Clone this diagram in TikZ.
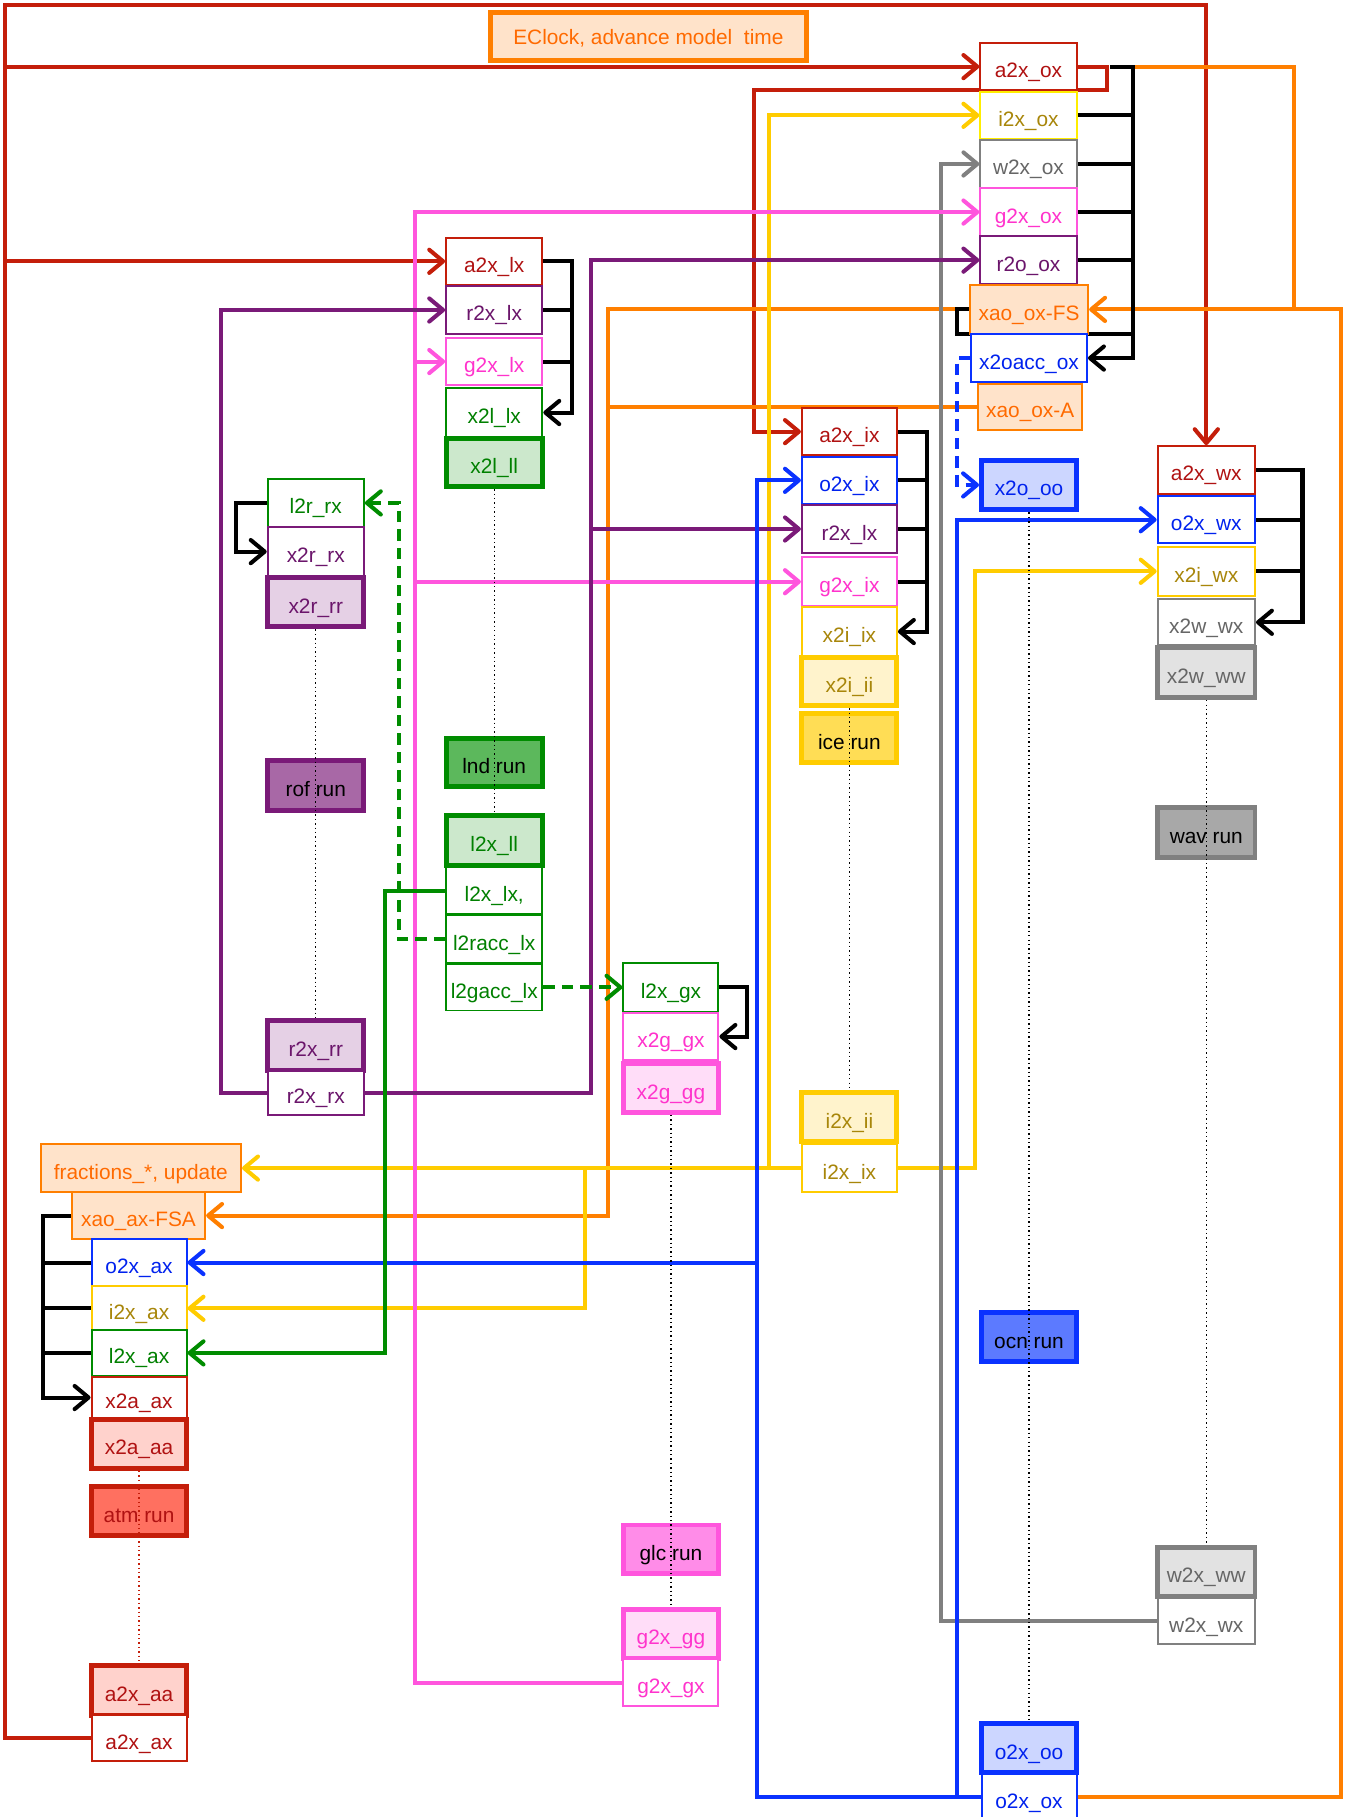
\documentclass[tikz,border=0pt]{standalone}
\usepackage{fontspec}
\setmainfont{Liberation Sans}
\usetikzlibrary{arrows.meta}
\pgfdeclarelayer{bg}
\pgfsetlayers{bg,main}
\definecolor{cred}{HTML}{C41E0A}
\definecolor{tred}{HTML}{B01212}
\definecolor{fred}{HTML}{FFD2CC}
\definecolor{atmred}{HTML}{FF7060}
\definecolor{corange}{HTML}{FF7F00}
\definecolor{forange}{HTML}{FFE3CA}
\definecolor{torange}{HTML}{FF6A00}
\definecolor{cyellow}{HTML}{FFCC00}
\definecolor{byellow}{HTML}{FFEE00}
\definecolor{tyellow}{HTML}{A8860A}
\definecolor{fyellow}{HTML}{FFF3CC}
\definecolor{iceyel}{HTML}{FFDD55}
\definecolor{cgray}{HTML}{808080}
\definecolor{tgray}{HTML}{666666}
\definecolor{fgray}{HTML}{E2E2E2}
\definecolor{wavgray}{HTML}{A8A8A8}
\definecolor{cpink}{HTML}{FF55DD}
\definecolor{tpink}{HTML}{FF33CC}
\definecolor{fpink}{HTML}{FFDDF8}
\definecolor{glcpink}{HTML}{FF8CE8}
\definecolor{cpur}{HTML}{7A1A78}
\definecolor{tpur}{HTML}{6B156B}
\definecolor{fpur}{HTML}{E5D0E5}
\definecolor{rofpur}{HTML}{A868A6}
\definecolor{cgreen}{HTML}{008C00}
\definecolor{tgreen}{HTML}{008000}
\definecolor{fgreen}{HTML}{CCE8CC}
\definecolor{lndgreen}{HTML}{5CB85C}
\definecolor{cblue}{HTML}{0A32FF}
\definecolor{tblue}{HTML}{0022EE}
\definecolor{fblue}{HTML}{CCD6FF}
\definecolor{ocnblue}{HTML}{5C7AFF}
\newcommand\lbl{\fontsize{18}{20}\selectfont}
\newcommand\bx[7]{%
  \pgfmathsetmacro\bxw{#4-#2}\pgfmathsetmacro\bxh{#5-#3}%
  \node[#6, minimum width=\bxw pt, minimum height=\bxh pt] (#1) at ({(#2+#4)/2},{(#3+#5)/2}) {#7};}
\begin{document}
\begin{tikzpicture}[x=1pt,y=-1pt,
  box/.style={draw, inner sep=0pt, line width=1.7pt, fill=white, font=\lbl, text height=20pt, text depth=1pt},
  comp/.style={line width=4.3pt},
  sred/.style={box, draw=cred, text=tred},
  sora/.style={box, draw=corange, fill=forange, text=torange},
  syel/.style={box, draw=cyellow, text=tyellow},
  sgray/.style={box, draw=cgray, text=tgray},
  spink/.style={box, draw=cpink, text=tpink},
  spur/.style={box, draw=cpur, text=tpur},
  sblue/.style={box, draw=cblue, text=tblue},
  sgreen/.style={box, draw=cgreen, text=tgreen},
  cn/.style={line width=3.5pt},
  arr/.style={-{Straight Barb[length=12pt,width=20pt,round]}},
  dsh/.style={dash pattern=on 10pt off 6pt},
  dot/.style={line width=1pt, dash pattern=on 1.2pt off 2.6pt}]
\useasboundingbox (0,0) rectangle (1163,1568);
% ocean column
\bx{aox}{846}{37}{929}{78}{sred}{a2x\_ox}
\bx{iox}{846}{79}{929}{120}{syel, draw=byellow}{i2x\_ox}
\bx{wox}{846}{121}{929}{162}{sgray}{w2x\_ox}
\bx{gox}{846}{162}{929}{204}{spink}{g2x\_ox}
\bx{rox}{846}{204}{929}{245}{spur}{r2o\_ox}
\bx{xfs}{837}{246}{939}{288}{sora}{xao\_ox-FS}
\bx{xacc}{838}{288}{938}{330}{sblue}{x2oacc\_ox}
\bx{xoa}{844}{331}{934}{371}{sora}{xao\_ox-A}
\bx{xoo}{847}{397}{929}{440}{sblue,comp,fill=fblue}{x2o\_oo}
\bx{ocn}{847}{1133}{929}{1175}{sblue,comp,fill=ocnblue,text=black}{ocn run}
\bx{ooo}{847}{1487}{929}{1530}{sblue,comp,fill=fblue}{o2x\_oo}
\bx{oox}{847}{1531}{929}{1571}{sblue}{o2x\_ox}
% clock
\bx{eclk}{423}{11}{696}{52}{sora, comp, text height=14pt}{EClock, advance model~~time}
% land column
\bx{alx}{385}{205}{468}{246}{sred}{a2x\_lx}
\bx{rlx}{385}{247}{468}{288}{spur}{r2x\_lx}
\bx{glx}{385}{292}{468}{332}{spink}{g2x\_lx}
\bx{xllx}{385}{335}{468}{377}{sgreen}{x2l\_lx}
\bx{xll}{385}{378}{468}{420}{sgreen,comp,fill=fgreen}{x2l\_ll}
\bx{lnd}{385}{637}{468}{679}{sgreen,comp,fill=lndgreen,text=black}{lnd run}
\bx{lxll}{385}{704}{468}{747}{sgreen,comp,fill=fgreen}{l2x\_ll}
\bx{lxlx}{385}{748}{468}{789}{sgreen}{l2x\_lx,}
\bx{lracc}{385}{790}{468}{831}{sgreen}{l2racc\_lx}
\bx{lgacc}{385}{832}{468}{872}{sgreen}{l2gacc\_lx}
% ice column
\bx{aix}{692}{352}{774}{393}{sred}{a2x\_ix}
\bx{oix}{692}{394}{774}{435}{sblue}{o2x\_ix}
\bx{rix}{692}{436}{774}{477}{spur}{r2x\_lx}
\bx{gix}{692}{481}{774}{523}{spink}{g2x\_ix}
\bx{xiix}{692}{524}{774}{566}{syel}{x2i\_ix}
\bx{xiii}{692}{567}{774}{609}{syel,comp,fill=fyellow}{x2i\_ii}
\bx{ice}{692}{616}{774}{658}{syel,comp,fill=iceyel,text=black}{ice run}
\bx{iii}{692}{943}{774}{985}{syel,comp,fill=fyellow}{i2x\_ii}
\bx{iix}{692}{987}{774}{1029}{syel}{i2x\_ix}
% river column
\bx{lrrx}{231}{413}{314}{455}{sgreen}{l2r\_rx}
\bx{xrrx}{231}{455}{314}{497}{spur}{x2r\_rx}
\bx{xrrr}{231}{498}{314}{541}{spur,comp,fill=fpur}{x2r\_rr}
\bx{rof}{231}{656}{314}{699}{spur,comp,fill=rofpur,text=black}{rof run}
\bx{rxrr}{231}{881}{314}{924}{spur,comp,fill=fpur}{r2x\_rr}
\bx{rxrx}{231}{924}{314}{962}{spur}{r2x\_rx}
% glacier column
\bx{lxgx}{538}{831}{620}{873}{sgreen}{l2x\_gx}
\bx{xggx}{538}{874}{620}{915}{spink}{x2g\_gx}
\bx{xggg}{538}{918}{620}{960}{spink,comp,fill=fpink}{x2g\_gg}
\bx{glc}{538}{1316}{620}{1358}{spink,comp,fill=glcpink,text=black}{glc run}
\bx{gxgg}{538}{1389}{620}{1431}{spink,comp,fill=fpink}{g2x\_gg}
\bx{gxgx}{538}{1432}{620}{1472}{spink}{g2x\_gx}
% atmosphere column
\bx{frac}{35}{987}{208}{1029}{sora}{fractions\_*, update}
\bx{xaxf}{62}{1029}{177}{1069}{sora}{xao\_ax-FSA}
\bx{oax}{79}{1069}{161}{1110}{sblue}{o2x\_ax}
\bx{iax}{79}{1110}{161}{1148}{syel}{i2x\_ax}
\bx{lax}{79}{1148}{161}{1187}{sgreen}{l2x\_ax}
\bx{xaax}{79}{1188}{161}{1224}{sred}{x2a\_ax}
\bx{xaaa}{79}{1225}{161}{1267}{sred,comp,fill=fred}{x2a\_aa}
\bx{atm}{79}{1283}{161}{1325}{sred,comp,fill=atmred}{atm run}
\bx{aaa}{79}{1437}{161}{1480}{sred,comp,fill=fred}{a2x\_aa}
\bx{aax}{79}{1480}{161}{1520}{sred}{a2x\_ax}
% wave column
\bx{awx}{999}{385}{1083}{426}{sred}{a2x\_wx}
\bx{owx}{999}{428}{1083}{469}{sblue}{o2x\_wx}
\bx{xiwx}{999}{472}{1083}{514}{syel}{x2i\_wx}
\bx{xwwx}{999}{517}{1083}{557}{sgray}{x2w\_wx}
\bx{xwww}{999}{559}{1083}{602}{sgray,comp,fill=fgray}{x2w\_ww}
\bx{wav}{999}{697}{1083}{740}{sgray,comp,fill=wavgray,text=black}{wav run}
\bx{www}{999}{1335}{1083}{1378}{sgray,comp,fill=fgray}{w2x\_ww}
\bx{wwx}{999}{1379}{1083}{1419}{sgray}{w2x\_wx}
\coordinate (lft) at (4,4);
\coordinate (kox) at (978,0);
\coordinate (klx) at (494,0);
\coordinate (kix) at (800,0);
\coordinate (kwx) at (1124,0);
\coordinate (kax) at (37,0);
\begin{pgfonlayer}{bg}
\fill[white] (0,0) rectangle (1163,1568);
% red
\draw[cn,cred,arr] (aax.west) -- (lft |- aax.west) -- (lft) -| (awx.north);
\draw[cn,cred,arr] (lft |- aox.west) -- (aox.west);
\draw[cn,cred,arr] (lft |- alx.west) -- (alx.west);
\draw[cn,cred,arr] (aox.east) -- (955,57.5) -- (955,78) -- (651,78) |- (aix.west);
% orange
\draw[cn,corange,arr] (oox.east) -- (1157,1551) -- (1157,267) -- (xfs.east);
\draw[cn,corange] (979,57.5) -- (1117,57.5) -- (1117,267);
\draw[cn,corange,arr] (xfs.west) -- (525,267) |- (xaxf.east);
\draw[cn,corange] (xoa.west) -- (525,351);
% yellow
\draw[cn,cyellow,arr] (iix.west) -- (664,1008) |- (iox.west);
\draw[cn,cyellow,arr] (664,1008) -- (frac.east);
\draw[cn,cyellow,arr] (505,1008) |- (iax.east);
\draw[cn,cyellow,arr] (iix.east) -- (841,1008) |- (xiwx.west);
% gray
\draw[cn,cgray,arr] (wwx.west) -- (812,1399) |- (wox.west);
% pink
\draw[cn,cpink,arr] (gxgx.west) -- (358,1452) |- (gox.west);
\draw[cn,cpink,arr] (358,312) -- (glx.west);
\draw[cn,cpink,arr] (358,502) -- (gix.west);
% purple
\draw[cn,cpur,arr] (rxrx.east) -- (510,943) |- (rox.west);
\draw[cn,cpur,arr] (510,456.5) -- (rix.west);
\draw[cn,cpur,arr] (rxrx.west) -- (191,943) |- (rlx.west);
% blue
\draw[cn,cblue,arr] (oox.west) -- (653,1551) |- (oix.west);
\draw[cn,cblue,arr] (653,1089.5) -- (oax.east);
\draw[cn,cblue,arr] (826,1551) |- (owx.west);
\draw[cn,cblue,arr,dsh] (xacc.west) -- (826,309) |- (xoo.west);
% green
\draw[cn,cgreen,arr] (lxlx.west) -- (332,768.5) |- (lax.east);
\draw[cn,cgreen,arr,dsh] (lracc.west) -- (344,810.5) |- (lrrx.east);
\draw[cn,cgreen,arr,dsh] (lgacc.east) -- (lxgx.west);
% black merges
\draw[cn,arr] (958,57.5) -- (978,57.5) -- (978,309) -- (xacc.east);
\foreach \n in {iox,wox,gox,rox} \draw[cn] (\n.east) -- (\n.east -| kox);
\draw[cn] (xfs.west) -- (826,267) -- (826,288) -- (978,288);
\draw[cn,arr] (alx.east) -- (alx.east -| klx) -- (klx |- xllx.east) -- (xllx.east);
\foreach \n in {rlx,glx} \draw[cn] (\n.east) -- (\n.east -| klx);
\draw[cn,arr] (aix.east) -- (aix.east -| kix) -- (kix |- xiix.east) -- (xiix.east);
\foreach \n in {oix,rix,gix} \draw[cn] (\n.east) -- (\n.east -| kix);
\draw[cn,arr] (awx.east) -- (awx.east -| kwx) -- (kwx |- xwwx.east) -- (xwwx.east);
\foreach \n in {owx,xiwx} \draw[cn] (\n.east) -- (\n.east -| kwx);
\draw[cn,arr] (xaxf.west) -- (xaxf.west -| kax) -- (kax |- xaax.west) -- (xaax.west);
\foreach \n in {oax,iax,lax} \draw[cn] (\n.west) -- (\n.west -| kax);
\draw[cn,arr] (lrrx.west) -- (204,434) |- (xrrx.west);
\draw[cn,arr] (lxgx.east) -- (645,852) |- (xggx.east);
\end{pgfonlayer}
% lifelines
\draw[dot] (xll.south) -- (lxll.north);
\draw[dot] (xrrr.south) -- (rxrr.north);
\draw[dot] (xiii.south) -- (iii.north);
\draw[dot] (xggg.south) -- (gxgg.north);
\draw[dot] (xoo.south) -- (ooo.north);
\draw[dot] (xwww.south) -- (www.north);
\draw[dot,cred] (xaaa.south) -- (aaa.north);
\end{tikzpicture}
\end{document}
